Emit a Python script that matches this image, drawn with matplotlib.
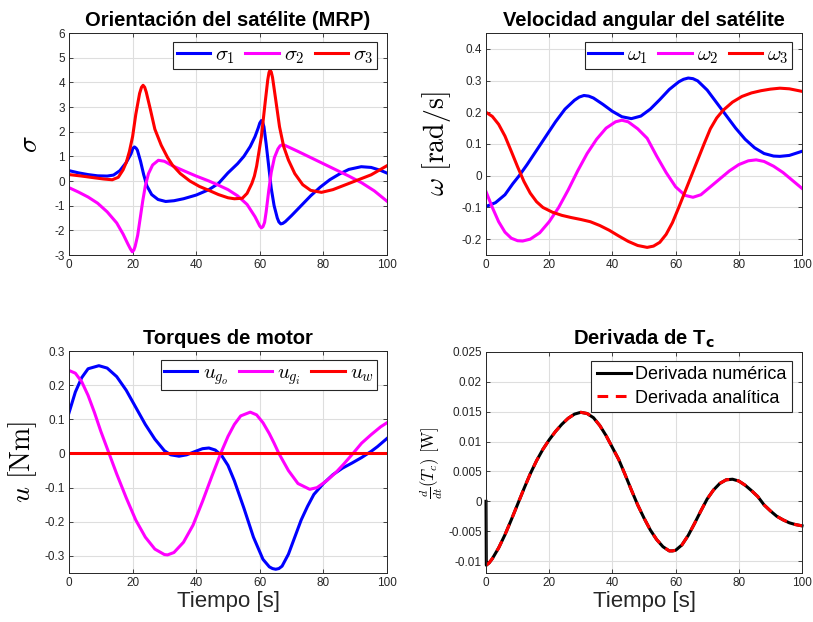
import matplotlib
matplotlib.use("Agg")
import matplotlib.pyplot as plt
from matplotlib.ticker import FuncFormatter

plt.rcParams['font.family'] = ['Liberation Sans', 'DejaVu Sans']
plt.rcParams['mathtext.fontset'] = 'cm'
plt.rcParams['axes.unicode_minus'] = False
plt.rcParams['lines.solid_joinstyle'] = 'round'
plt.rcParams['lines.dash_joinstyle'] = 'round'

# --- Orientación (MRP) ---
t_s1 = [0, 3, 6, 9, 12, 14, 16, 18, 19.5, 20.1, 20.6, 21.1, 21.5, 22.5, 23.5, 24.5, 26, 28, 30.4, 33,
        36, 40, 44, 47, 50, 53, 55, 57, 58.5, 59.5, 60, 60.5, 60.9, 61.3, 62, 62.8, 63.6, 64.5, 65.5,
        66, 66.6, 67.2, 68, 70, 73, 76, 79, 82, 85, 88, 91.9, 95, 98, 100]
s1 = [0.42, 0.33, 0.26, 0.21, 0.2, 0.24, 0.42, 0.75, 1.1, 1.33, 1.38, 1.33, 1.25, 0.8, 0.25, -0.2,
      -0.55, -0.75, -0.83, -0.8, -0.72, -0.57, -0.35, -0.1, 0.33, 0.7, 1.0, 1.4, 1.8, 2.15, 2.35,
      2.45, 2.38, 2.2, 1.5, 0.6, -0.3, -1.0, -1.5, -1.66, -1.74, -1.72, -1.65, -1.4, -1.0, -0.6,
      -0.25, 0.05, 0.28, 0.47, 0.58, 0.55, 0.43, 0.32]
t_s2 = [0, 3, 6, 9, 12, 15, 17, 18.5, 19.3, 19.9, 20.4, 20.8, 21.6, 22.4, 23.2, 24, 25, 26.3, 28.1,
        30, 32.5, 36, 40, 44, 47, 50, 53, 56, 58.5, 60, 60.5, 61, 61.5, 62, 62.8, 63.6, 64.6, 65.7,
        66.4, 67.1, 67.8, 69, 72, 76, 80, 84, 88, 92, 96, 100]
s2 = [-0.27, -0.45, -0.65, -0.9, -1.25, -1.7, -2.15, -2.55, -2.75, -2.87, -2.8, -2.65, -2.2, -1.5,
      -0.8, -0.2, 0.3, 0.65, 0.84, 0.8, 0.62, 0.42, 0.2, 0.0, -0.17, -0.35, -0.6, -0.95, -1.45,
      -1.83, -1.9, -1.85, -1.68, -1.25, -0.4, 0.35, 0.95, 1.3, 1.43, 1.47, 1.45, 1.38, 1.2, 0.95,
      0.7, 0.45, 0.2, -0.07, -0.4, -0.82]
t_s3 = [0, 4, 8, 11, 13.6, 15.5, 17, 18, 19, 20, 21, 22.2, 22.8, 23.3, 23.8, 24.3, 25.5, 27, 29, 31,
        32.5, 35, 38, 41, 44, 47, 50, 52, 54.5, 56, 57.5, 58.3, 59, 60.5, 61.7, 62.5, 62.9, 63.2,
        63.6, 64, 65, 66.2, 67.5, 69, 71, 73.5, 76, 79.4, 83, 87, 91, 95, 100]
s3 = [0.26, 0.2, 0.13, 0.08, 0.05, 0.15, 0.45, 0.75, 1.2, 1.8, 2.7, 3.55, 3.8, 3.88, 3.8, 3.6, 2.95,
      2.1, 1.45, 0.95, 0.65, 0.3, 0.0, -0.22, -0.38, -0.55, -0.68, -0.72, -0.7, -0.5, -0.1, 0.2,
      0.6, 1.8, 3.2, 4.1, 4.4, 4.49, 4.42, 4.2, 3.3, 2.2, 1.4, 0.85, 0.3, -0.15, -0.38, -0.46,
      -0.35, -0.15, 0.05, 0.25, 0.62]

# --- Velocidad angular ---
t_w1 = [0, 3, 6, 8.5, 10.5, 13, 16, 19, 22, 25, 28, 29.5, 31, 32.5, 34, 37, 40, 43, 46, 49, 52, 55,
        58, 61, 62.5, 64, 65.5, 67, 70, 73, 76, 79, 82, 85, 88, 91, 93, 96, 100]
w1 = [-0.097, -0.085, -0.06, -0.025, 0.0, 0.035, 0.08, 0.125, 0.17, 0.21, 0.238, 0.248, 0.253,
      0.251, 0.245, 0.225, 0.203, 0.186, 0.18, 0.188, 0.21, 0.24, 0.272, 0.296, 0.304, 0.308,
      0.306, 0.299, 0.27, 0.23, 0.19, 0.15, 0.115, 0.088, 0.07, 0.062, 0.061, 0.064, 0.077]
t_w2 = [0, 2, 4, 6, 8, 10, 11.6, 14, 17, 20, 23, 26, 29, 32, 35, 38, 41, 43, 45, 48, 51, 54, 57, 60,
        63, 65.5, 68, 71, 74, 77, 80, 83, 85.5, 88, 91, 94, 97, 100]
w2 = [-0.05, -0.1, -0.145, -0.178, -0.197, -0.205, -0.206, -0.2, -0.18, -0.145, -0.1, -0.045, 0.015,
      0.07, 0.115, 0.15, 0.17, 0.175, 0.17, 0.148, 0.118, 0.062, 0.01, -0.035, -0.062, -0.068, -0.06,
      -0.035, -0.01, 0.015, 0.035, 0.047, 0.05, 0.045, 0.03, 0.01, -0.015, -0.04]
t_w3 = [0, 2, 4, 6, 8, 10, 12, 14, 16, 18, 21, 24, 27, 30, 33, 36, 39, 42, 45, 48, 51, 53, 55, 57, 59,
        61, 63, 65, 67, 69, 71, 73, 75, 78, 81, 84, 87, 90, 93, 96, 100]
w3 = [0.2, 0.187, 0.162, 0.125, 0.077, 0.028, -0.018, -0.055, -0.082, -0.1, -0.115, -0.125, -0.132,
      -0.138, -0.145, -0.157, -0.172, -0.19, -0.207, -0.22, -0.226, -0.222, -0.21, -0.185, -0.148,
      -0.1, -0.05, 0.0, 0.05, 0.1, 0.148, 0.182, 0.206, 0.232, 0.25, 0.261, 0.268, 0.273, 0.276,
      0.274, 0.266]

# --- Torques de motor ---
t_ugo = [0, 2, 4, 6, 9.4, 12, 15, 18, 21, 24, 27, 30, 32, 34.6, 37, 40, 42, 44, 46, 48, 50, 52, 55,
         58, 61, 63, 64, 65, 66, 67, 69, 71, 73, 75, 77, 80, 83, 86, 89, 92, 95, 97, 100]
ugo = [0.119, 0.18, 0.222, 0.248, 0.257, 0.25, 0.225, 0.185, 0.135, 0.085, 0.042, 0.008, -0.004,
       -0.008, -0.004, 0.007, 0.014, 0.016, 0.01, -0.006, -0.035, -0.08, -0.16, -0.245, -0.31,
       -0.332, -0.337, -0.339, -0.337, -0.33, -0.295, -0.245, -0.195, -0.155, -0.12, -0.088, -0.062,
       -0.043, -0.028, -0.012, 0.006, 0.02, 0.044]
t_ugi = [0, 2, 4, 6, 8, 10, 12.6, 15, 18, 21, 24, 27, 30, 31, 33, 36, 39, 42, 45, 47.7, 50, 52, 54,
         57, 59, 61, 63, 64.5, 66, 69, 72, 75.7, 78, 81, 84, 86.5, 89.3, 92, 95, 98, 100]
ugi = [0.243, 0.235, 0.21, 0.17, 0.12, 0.065, 0.0, -0.06, -0.13, -0.195, -0.245, -0.28, -0.296,
       -0.297, -0.29, -0.26, -0.21, -0.14, -0.065, 0.0, 0.05, 0.085, 0.11, 0.121, 0.113, 0.09, 0.058,
       0.03, 0.0, -0.05, -0.088, -0.105, -0.1, -0.08, -0.055, -0.03, 0.0, 0.03, 0.055, 0.078, 0.09]
t_uw = [0, 100]
uw = [0, 0]

# --- Derivada de Tc ---
t_da = [0, 1, 2, 4, 6, 8, 10, 12, 14, 16, 18, 20, 22, 24, 26, 28, 30, 32, 34, 36, 38, 40, 42, 44,
        46, 48, 50, 52, 54, 56, 58, 59, 60, 62, 64, 66, 68, 70, 72, 74, 76, 78, 80, 82, 84, 86, 88,
        90, 92, 94, 96, 98, 100]
da = [-0.0107, -0.0103, -0.0096, -0.0078, -0.0056, -0.0031, -0.0005, 0.0021, 0.0046, 0.0068, 0.0087,
      0.0103, 0.0117, 0.0129, 0.0139, 0.0146, 0.0149, 0.0147, 0.0140, 0.0127, 0.0110, 0.0090, 0.0070,
      0.0045, 0.0019, -0.0006, -0.0028, -0.0048, -0.0064, -0.0076, -0.0083, -0.0083, -0.0082, -0.0073,
      -0.0057, -0.0037, -0.0016, 0.0004, 0.0019, 0.0030, 0.0036, 0.0037, 0.0034, 0.0027, 0.0018,
      0.0008, -0.0006, -0.0016, -0.0025, -0.0031, -0.0036, -0.0039, -0.0041]
t_dn = [0] + [0.1] + t_da[1:]
dn = [0.0] + da

fig = plt.figure(figsize=(8.13, 6.22), dpi=100)
W, H = 813, 622


def make_ax(l, t, r, b):
    ax = fig.add_axes([l / W, 1 - b / H, (r - l) / W, (b - t) / H])
    ax.grid(True, color='#dedede', linewidth=0.8)
    ax.set_axisbelow(True)
    ax.tick_params(direction='in', length=3, width=0.6, top=True, right=True,
                   labelsize=8.5, colors='#262626', pad=3)
    for sp in ax.spines.values():
        sp.set_color('#262626')
        sp.set_linewidth(0.7)
    ax.set_xlim(0, 100)
    ax.set_xticks(range(0, 101, 20))
    ax.yaxis.set_major_formatter(FuncFormatter(lambda v, p: '%g' % round(v, 6)))
    return ax


def legend(ax, **kw):
    lg = ax.legend(loc='upper right', borderaxespad=0, fancybox=False, framealpha=1,
                   edgecolor='#262626', **kw)
    lg.get_frame().set_linewidth(0.8)
    return lg


lw = 2.2
tkw = dict(fontsize=14.5, fontweight='bold', pad=5)
lkw = dict(ncol=3, fontsize=15, bbox_to_anchor=(0.969, 0.96), handlelength=1.6,
           columnspacing=0.5, handletextpad=0.25, borderpad=0.15)

# panel 1
ax1 = make_ax(69, 33, 387, 255)
ax1.plot(t_s1, s1, color='#0000ff', lw=lw, label=r'$\sigma_\mathbf{1}$')
ax1.plot(t_s2, s2, color='#ff00ff', lw=lw, label=r'$\sigma_\mathbf{2}$')
ax1.plot(t_s3, s3, color='#ff0000', lw=lw, label=r'$\sigma_\mathbf{3}$')
ax1.set_ylim(-3, 6)
ax1.set_yticks(range(-3, 7))
ax1.set_ylabel(r'$\sigma$', fontsize=20, labelpad=8)
ax1.set_title('Orientación del satélite (MRP)', **tkw)
legend(ax1, **lkw)

# panel 2
ax2 = make_ax(486, 33, 802, 255)
ax2.plot(t_w1, w1, color='#0000ff', lw=lw, label=r'$\omega_\mathbf{1}$')
ax2.plot(t_w2, w2, color='#ff00ff', lw=lw, label=r'$\omega_\mathbf{2}$')
ax2.plot(t_w3, w3, color='#ff0000', lw=lw, label=r'$\omega_\mathbf{3}$')
ax2.set_ylim(-0.25, 0.45)
ax2.set_yticks([-0.2, -0.1, 0, 0.1, 0.2, 0.3, 0.4])
ax2.set_ylabel(r'$\omega\ [\mathrm{rad/s}]$', fontsize=20, labelpad=6)
ax2.set_title('Velocidad angular del satélite', **tkw)
legend(ax2, **lkw)

# panel 3
ax3 = make_ax(69, 351, 387, 573)
ax3.plot(t_ugo, ugo, color='#0000ff', lw=lw, label=r'$u_{g_o}$')
ax3.plot(t_ugi, ugi, color='#ff00ff', lw=lw, label=r'$u_{g_i}$')
ax3.plot(t_uw, uw, color='#ff0000', lw=lw, label=r'$u_w$')
ax3.set_ylim(-0.35, 0.3)
ax3.set_yticks([-0.3, -0.2, -0.1, 0, 0.1, 0.2, 0.3])
ax3.set_ylabel(r'$u\ [\mathrm{Nm}]$', fontsize=20, labelpad=4)
ax3.set_xlabel('Tiempo [s]', fontsize=16, color='#262626', labelpad=1)
ax3.set_title('Torques de motor', **tkw)
legend(ax3, **lkw)

# panel 4
ax4 = make_ax(486, 352, 802, 573)
ax4.plot(t_dn, dn, color='black', lw=lw, label='Derivada numérica', clip_on=False)
ax4.plot(t_da, da, color='#ff0000', lw=lw, ls=(0, (3.5, 2.5)), label='Derivada analítica')
ax4.set_ylim(-0.012, 0.025)
ax4.set_yticks([-0.01, -0.005, 0, 0.005, 0.01, 0.015, 0.02, 0.025])
ax4.set_ylabel(r'$\frac{d}{dt}(T_c)\ [\mathrm{W}]$', fontsize=12, labelpad=2)
ax4.set_xlabel('Tiempo [s]', fontsize=16, color='#262626', labelpad=1)
ax4.set_title(r'Derivada de T$_\mathbf{c}$', math_fontfamily='dejavusans', **tkw)
legend(ax4, ncol=1, fontsize=13, bbox_to_anchor=(0.969, 0.96), handlelength=1.9,
       handletextpad=0.25, borderpad=0.3, labelspacing=0.35)

fig.savefig('out.png', dpi=100)
